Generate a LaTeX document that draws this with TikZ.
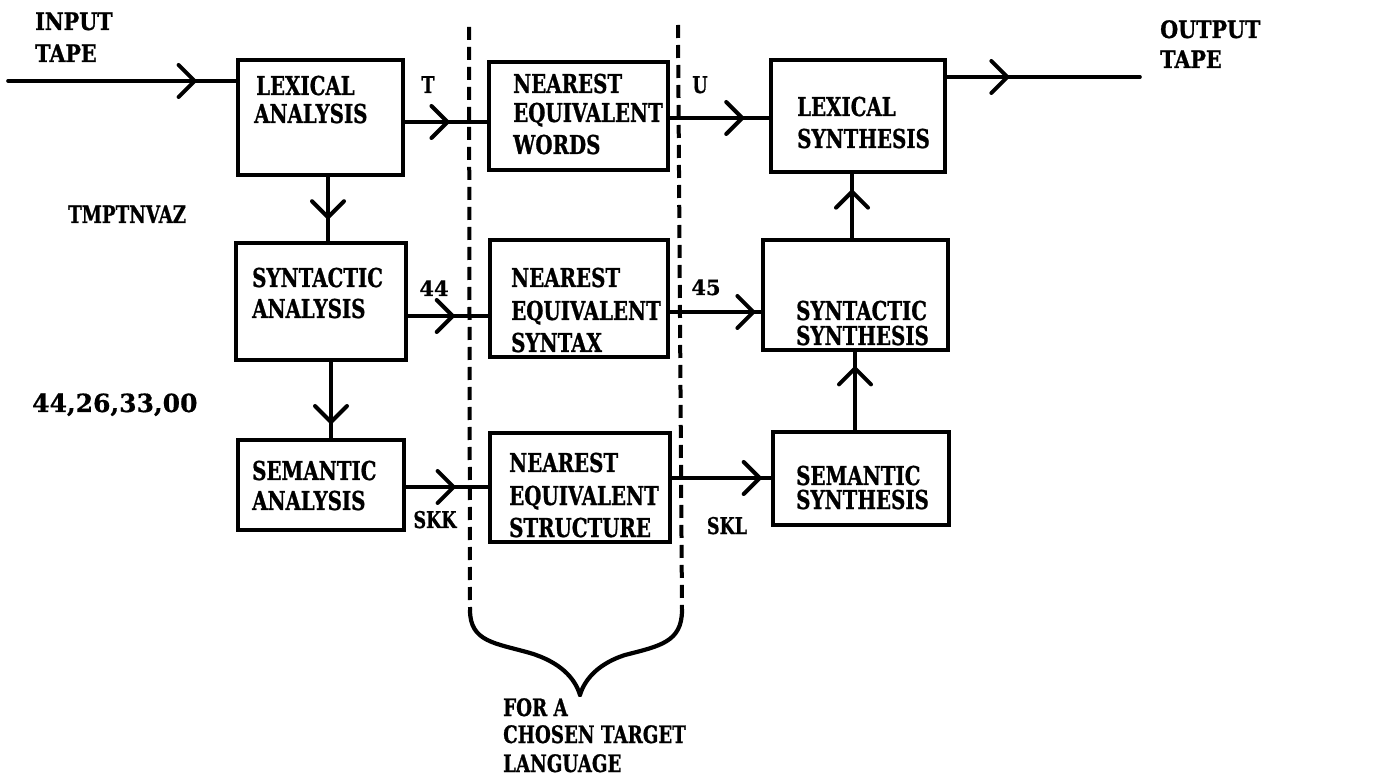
\documentclass[tikz,border=0pt]{standalone}
\usepackage{fontspec}
\newfontfamily\boxfont[FakeStretch=0.76,BoldFeatures={FakeBold=0.8}]{DejaVu Serif}
\newfontfamily\tapefont[FakeStretch=0.86,BoldFeatures={FakeBold=1}]{DejaVu Serif}
\newfontfamily\numfont[BoldFeatures={FakeBold=0.6}]{DejaVu Serif}
\usetikzlibrary{arrows.meta,decorations.markings}
\tikzset{
  box/.style={draw, line width=4.5pt, inner sep=0pt, outer sep=0pt},
  conn/.style={line width=3.6pt, line cap=round},
  dashline/.style={line width=4pt, dash pattern=on 13pt off 7pt},
  midarr/.style={postaction={decorate}, decoration={markings,
      mark=at position #1 with {\arrow[line width=4pt]{Straight Barb[length=16pt,width=32pt,round]}}}},
  txt/.style={inner sep=0pt, anchor=base west, font=\boxfont\bfseries\fontsize{26}{26}\selectfont},
  lbl/.style={inner sep=0pt, anchor=base, font=\boxfont\bfseries\fontsize{23}{23}\selectfont},
  num/.style={inner sep=0pt, anchor=base, font=\numfont\bfseries\fontsize{21}{21}\selectfont},
  tape/.style={inner sep=0pt, anchor=base west, font=\tapefont\bfseries\fontsize{24}{24}\selectfont},
  tgt/.style={inner sep=0pt, anchor=base west, font=\boxfont\bfseries\fontsize{24}{24}\selectfont},
}
\begin{document}
\begin{tikzpicture}[x=1pt,y=-1pt]
\useasboundingbox[fill=white] (0,0) rectangle (1385,783);

% boxes
\node[box, minimum width=165pt, minimum height=115pt] (la) at (320.5,117.5) {};
\node[box, minimum width=179pt, minimum height=108pt] (new) at (578.5,116) {};
\node[box, minimum width=174pt, minimum height=112pt] (ls) at (858,116) {};
\node[box, minimum width=170pt, minimum height=117pt] (sa) at (321,301.5) {};
\node[box, minimum width=178pt, minimum height=117pt] (nes) at (579,298.5) {};
\node[box, minimum width=185pt, minimum height=110pt] (ss) at (855.5,295) {};
\node[box, minimum width=166pt, minimum height=90pt] (sema) at (321,485) {};
\node[box, minimum width=180pt, minimum height=109pt] (nestr) at (580,487.5) {};
\node[box, minimum width=176pt, minimum height=93pt] (sems) at (861,478.5) {};

% box texts
\node[txt] (la1) at (256,95) {LEXICAL};
\node[txt] (la2) at (254,123) {ANALYSIS};
\node[txt] (new1) at (513,93) {NEAREST};
\node[txt] (new2) at (513,122) {EQUIVALENT};
\node[txt] (new3) at (513,154) {WORDS};
\node[txt] (ls1) at (797,116) {LEXICAL};
\node[txt] (ls2) at (797,148) {SYNTHESIS};
\node[txt] (sa1) at (252,287) {SYNTACTIC};
\node[txt] (sa2) at (252,318) {ANALYSIS};
\node[txt] (nes1) at (511,287) {NEAREST};
\node[txt] (nes2) at (511,320) {EQUIVALENT};
\node[txt] (nes3) at (511,352) {SYNTAX};
\node[txt] (ss1) at (796,320) {SYNTACTIC};
\node[txt] (ss2) at (796,345) {SYNTHESIS};
\node[txt] (sema1) at (252,480) {SEMANTIC};
\node[txt] (sema2) at (252,510) {ANALYSIS};
\node[txt] (nestr1) at (509,472) {NEAREST};
\node[txt] (nestr2) at (509,505) {EQUIVALENT};
\node[txt] (nestr3) at (509,537) {STRUCTURE};
\node[txt] (sems1) at (796,485) {SEMANTIC};
\node[txt] (sems2) at (796,509) {SYNTHESIS};

% helper coordinates
\coordinate (inS) at (8,81);
\coordinate (outE) at (1140,77);
\coordinate (y1) at (0,122);
\coordinate (y2) at (0,118);
\coordinate (y3) at (0,77);
\coordinate (y4) at (0,316);
\coordinate (y5) at (0,312);
\coordinate (y6) at (0,487);
\coordinate (y7) at (0,478);
\coordinate (x1) at (328,0);
\coordinate (x2) at (331,0);
\coordinate (x3) at (855,0);
\coordinate (x4) at (852,0);

% connectors
\draw[conn, midarr=0.82] (inS) -- (la.west |- inS);
\draw[conn, midarr=0.54] (la.east |- y1) -- (new.west |- y1);
\draw[conn, midarr=0.74] (new.east |- y2) -- (ls.west |- y2);
\draw[conn, midarr=0.33] (ls.east |- y3) -- (outE);
\draw[conn, midarr=0.65] (x1 |- la.south) -- (x1 |- sa.north);
\draw[conn, midarr=0.58] (sa.east |- y4) -- (nes.west |- y4);
\draw[conn, midarr=0.92] (nes.east |- y5) -- (ss.west |- y5);
\draw[conn, midarr=0.80] (x2 |- sa.south) -- (x2 |- sema.north);
\draw[conn, midarr=0.60] (sema.east |- y6) -- (nestr.west |- y6);
\draw[conn, midarr=0.89] (nestr.east |- y7) -- (sems.west |- y7);
\draw[conn, midarr=0.80] (x3 |- sems.north) -- (x3 |- ss.south);
\draw[conn, midarr=0.74] (x4 |- ss.north) -- (x4 |- ls.south);

% dashed boundary lines and brace
\coordinate (d1top) at (469,27);
\coordinate (d1bot) at (470,610);
\coordinate (d2top) at (678,25);
\coordinate (d2bot) at (682,610);
\coordinate (btip) at (580,695);
\draw[dashline] (d1top) -- (d1bot);
\draw[dashline] (d2top) -- (d2bot);
\draw[conn, line width=4.2pt] (d1bot) .. controls (470,642) and (495,643) .. (530,653)
   .. controls (560,662) and (575,678) .. (btip);
\draw[conn, line width=4.2pt] (d2bot) .. controls (682,642) and (660,646) .. (625,655)
   .. controls (600,663) and (585,678) .. (btip);

% labels
\node[lbl] (lT) at (428,93) {T};
\node[lbl] (lU) at (700,93) {U};
\node[num] (l44) at (434,296) {44};
\node[num] (l45) at (706,295) {45};
\node[lbl] (lskk) at (435,528) {SKK};
\node[lbl] (lskl) at (727,534) {SKL};
\node[txt, font=\boxfont\bfseries\fontsize{24}{24}\selectfont] (ltmp) at (68,223) {TMPTNVAZ};
\node[inner sep=0pt, anchor=base west, font=\numfont\bfseries\fontsize{25}{25}\selectfont] (lnum) at (32,412) {44,26,33,00};

\node[tape] (in1) at (35,30) {INPUT};
\node[tape] (in2) at (35,62) {TAPE};
\node[tape] (out1) at (1160,38) {OUTPUT};
\node[tape] (out2) at (1160,68) {TAPE};

\node[tgt] (t1) at (503,716) {FOR A};
\node[tgt] (t2) at (503,743) {CHOSEN TARGET};
\node[tgt] (t3) at (503,772) {LANGUAGE};
\end{tikzpicture}
\end{document}
